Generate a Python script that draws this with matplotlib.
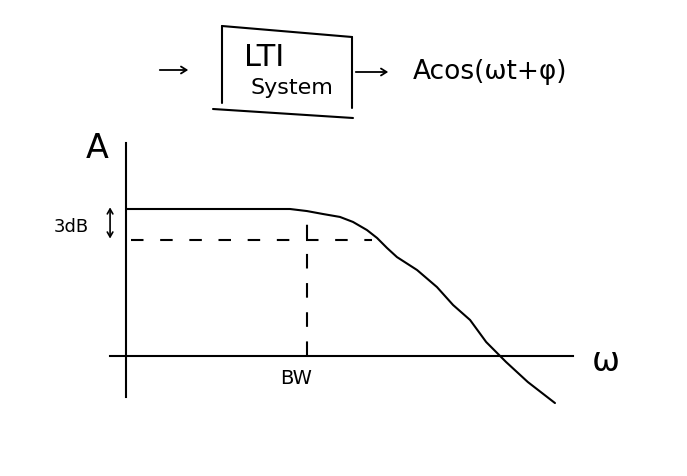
import matplotlib
matplotlib.use("Agg")
import matplotlib.pyplot as plt
from matplotlib.lines import Line2D

# ---- data (omega in units of BW, amplitude normalised to passband) ----
omega = [0.0, 0.50, 0.906, 1.00, 1.088, 1.182, 1.254, 1.331, 1.387, 1.442, 1.497,
         1.608, 1.718, 1.807, 1.901, 1.99, 2.10, 2.22, 2.37]
amp   = [1.0, 1.00, 1.00, 0.986, 0.966, 0.946, 0.912, 0.857, 0.803, 0.735, 0.673,
         0.585, 0.469, 0.347, 0.245, 0.095, -0.041, -0.177, -0.320]
bw = 1.0
amp_3db = 0.79
labels = {"y": "A", "x": "ω", "bw": "BW", "db": "3dB"}
block_text = ["LTI", "System"]
output_text = "Acos(ωt+φ)"

W, H = 687, 476
fig = plt.figure(figsize=(W / 100, H / 100), dpi=100)
fig.patch.set_facecolor("white")

# axes placed so that omega=0 sits at px 126 and A=0 at py 356
sx, sy = 181.0, 147.0
ax = fig.add_axes([0, 0, 1, 1])
ax.set_xlim(-126 / sx, (W - 126) / sx)
ax.set_ylim(-(H - 356) / sy, 356 / sy)
ax.set_facecolor("none")
ax.set_xticks([]); ax.set_yticks([])
for s in ["top", "right"]:
    ax.spines[s].set_visible(False)
ax.spines["left"].set_position(("data", 0))
ax.spines["bottom"].set_position(("data", 0))
ax.spines["left"].set_bounds(-0.28, 1.45)
ax.spines["bottom"].set_bounds(-0.088, 2.47)
for s in ["left", "bottom"]:
    ax.spines[s].set_linewidth(1.5)
    ax.spines[s].set_color("black")

lw = 1.5
ax.plot(omega, amp, color="black", lw=lw, solid_capstyle="round", solid_joinstyle="round")
ax.plot([0.03, 1.36], [amp_3db, amp_3db], color="black", lw=lw, ls=(0, (6, 8)))
ax.plot([bw, bw], [0, 0.97], color="black", lw=lw, ls=(0, (7, 7)))

ax.annotate("", xy=(-0.088, 1.03), xytext=(-0.088, 0.78),
            arrowprops=dict(arrowstyle="<->,head_length=0.35,head_width=0.2", color="black", lw=1.2))

ax.text(-0.16, 1.41, labels["y"], fontsize=24, ha="center", va="center")
ax.text(-0.30, 0.88, labels["db"], fontsize=13, ha="center", va="center")
ax.text(bw - 0.06, -0.15, labels["bw"], fontsize=14, ha="center", va="center")
ax.text(2.65, -0.04, labels["x"], fontsize=24, ha="center", va="center")

# ---- block diagram at the top (figure pixel positions) ----
def P(px, py):
    return px / W, 1 - py / H

def seg(a, b):
    (x0, y0), (x1, y1) = P(*a), P(*b)
    fig.add_artist(Line2D([x0, x1], [y0, y1], transform=fig.transFigure,
                          color="black", lw=lw, solid_capstyle="round"))

seg((222, 26), (222, 103))
seg((222, 26), (352, 37))
seg((352, 37), (352, 108))
seg((213, 109), (353, 118))

for a, b in [((157, 70), (191, 70)), ((353, 72), (391, 72))]:
    fig.add_artist(plt.Annotation("", xy=P(*b), xytext=P(*a), xycoords="figure fraction",
                                  textcoords="figure fraction",
                                  arrowprops=dict(arrowstyle="->,head_length=0.4,head_width=0.25",
                                                  color="black", lw=1.3)))

fig.text(*P(264, 58), block_text[0], fontsize=22, ha="center", va="center")
fig.text(*P(292, 88), block_text[1], fontsize=16, ha="center", va="center")
fig.text(*P(490, 72), output_text, fontsize=19, ha="center", va="center")

fig.savefig("out.png", dpi=100)
